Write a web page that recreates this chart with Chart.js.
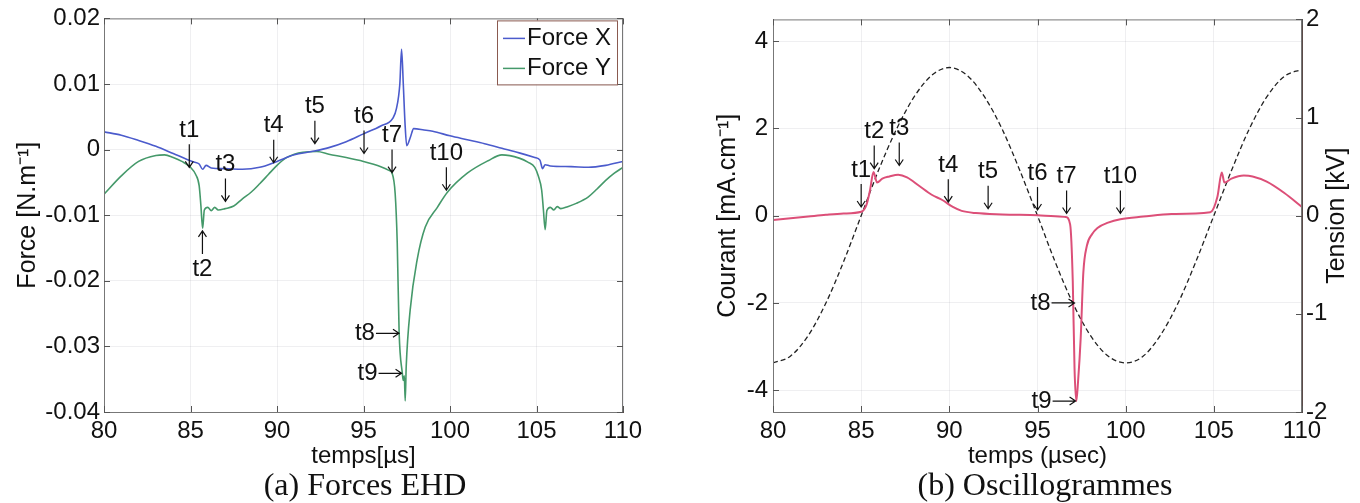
<!DOCTYPE html>
<html>
<head>
<meta charset="utf-8">
<script src="https://cdn.jsdelivr.net/npm/chart.js@4.4.1/dist/chart.umd.min.js"></script>
<style>
body { margin: 0; background: #fff; width: 1360px; height: 503px; overflow: hidden; position: relative; }
.pane { position: absolute; top: 0; width: 680px; height: 503px; }
.cap { position: absolute; top: 466px; width: 400px; text-align: center; font-size: 32px; line-height: 36px;
       font-family: "Liberation Serif", "Times New Roman", serif; color: #111; }
</style>
</head>
<body>
<div class="pane" style="left:0"><canvas id="forces" width="680" height="503"></canvas></div>
<div class="pane" style="left:680px"><canvas id="oscillo" width="680" height="503"></canvas></div>
<div class="cap" style="left:165px">(a) Forces EHD</div>
<div class="cap" style="left:845px">(b) Oscillogrammes</div>
<script>
// ticks
var timeTicks = [80, 85, 90, 95, 100, 105, 110];
var forceTicks = [-0.04, -0.03, -0.02, -0.01, 0, 0.01, 0.02];
var courantTicks = [-4, -2, 0, 2, 4];
var tensionTicks = [-2, -1, 0, 1, 2];

// (a) forces EHD, N/m
var fxTime = [80, 81, 82, 83, 84, 84.8, 85.2, 85.5, 85.7, 85.9, 86.2, 87, 88, 89, 90, 91, 92, 93, 94, 95, 96,
  96.7, 96.9, 97.1, 97.2, 97.3, 97.4, 97.5, 97.7, 97.9, 98.5, 99, 100, 101, 102, 103, 104, 104.9, 105.2, 105.35,
  105.5, 105.8, 107, 108, 109, 110];
var fxValue = [0.0027, 0.0022, 0.0014, 0.0005, -0.0006, -0.0015, -0.0019, -0.0022, -0.0030, -0.0024, -0.0028,
  -0.0029, -0.0030, -0.0027, -0.0018, -0.0008, -0.0003, 0.0003, 0.0012, 0.0024, 0.0036,
  0.0048, 0.0062, 0.0100, 0.0153, 0.0100, 0.0040, 0.0006, 0.0018, 0.0032, 0.0030, 0.0028, 0.0021, 0.0015,
  0.0009, 0.0002, -0.0005, -0.0012, -0.0016, -0.0029, -0.0023, -0.0025, -0.0026, -0.0027, -0.0024, -0.0018];

var fyTime = [80, 81, 82, 83, 83.5, 84, 84.5, 85, 85.3, 85.5, 85.6, 85.7, 85.8, 86, 86.2, 86.4, 86.6, 87, 87.5,
  88, 88.5, 89, 89.5, 90, 90.5, 91, 91.5, 92.3, 93, 94, 95, 96, 96.5, 96.65, 96.83, 96.95, 97.06, 97.24, 97.3,
  97.36, 97.41, 97.47, 97.7, 98.1, 98.57, 99.27, 99.85, 101, 102.2, 103, 104, 104.5, 104.9, 105.1, 105.3, 105.4,
  105.5, 105.6, 105.8, 106, 106.2, 106.4, 106.8, 107.3, 108, 108.5, 109, 109.5, 110];
var fyValue = [-0.0068, -0.0040, -0.0018, -0.0009, -0.0008, -0.0012, -0.0018, -0.0027, -0.0038, -0.0055,
  -0.0085, -0.0120, -0.0092, -0.0088, -0.0093, -0.0088, -0.0092, -0.0090, -0.0086, -0.0075, -0.0065, -0.0052,
  -0.0038, -0.0024, -0.0013, -0.0007, -0.0004, -0.0003, -0.0007, -0.0012, -0.0018, -0.0026, -0.0032, -0.0036,
  -0.0067, -0.0142, -0.0279, -0.0340, -0.0352, -0.0345, -0.0383, -0.0330, -0.0244, -0.0168, -0.0118, -0.0088,
  -0.0065, -0.0036, -0.0017, -0.0008, -0.0013, -0.0019, -0.0027, -0.0040, -0.0062, -0.0092, -0.0122, -0.0093,
  -0.0088, -0.0092, -0.0087, -0.0090, -0.0087, -0.0082, -0.0072, -0.0060, -0.0047, -0.0036, -0.0027];

// (b) oscillogrammes: current mA/cm, voltage kV
var courantTime = [80, 81, 82, 83, 84, 85, 85.3, 85.5, 85.7, 85.9, 86.2, 86.6, 87.1, 87.6, 88.3, 89, 89.6, 90.2,
  90.7, 91.5, 93, 95, 96, 96.6, 96.85, 97, 97.1, 97.2, 97.3, 97.45, 97.6, 97.8, 98.1, 98.4, 99, 99.7, 101, 102.6,
  104.8, 105.2, 105.45, 105.6, 106, 106.7, 107.2, 108, 109, 110];
var courantValue = [-0.10, -0.06, -0.02, 0.02, 0.05, 0.09, 0.25, 0.58, 1.0, 0.76, 0.85, 0.90, 0.94, 0.88, 0.68,
  0.48, 0.36, 0.20, 0.11, 0.06, 0.03, 0.01, -0.01, -0.03, -0.20, -1.5, -3.5, -4.25, -3.8, -2.8, -1.3, -0.69, -0.42,
  -0.28, -0.16, -0.08, -0.02, 0.04, 0.08, 0.43, 0.99, 0.76, 0.85, 0.92, 0.90, 0.78, 0.52, 0.20];

var tensionTime = [80, 81, 82, 83, 84, 85, 86, 87, 88, 89, 90, 91, 92, 93, 94, 95, 96, 97, 98, 99, 100,
  101, 102, 103, 104, 105, 106, 107, 108, 109, 110];
var tensionValue = [-1.50, -1.43, -1.22, -0.89, -0.47, 0.0, 0.47, 0.88, 1.21, 1.43, 1.51, 1.43, 1.21, 0.88,
  0.46, 0.0, -0.47, -0.89, -1.22, -1.43, -1.50, -1.43, -1.21, -0.88, -0.46, 0.0, 0.46, 0.88, 1.21, 1.42, 1.49];

// instants t1..t10: label, time, value at arrow tip, arrow direction
var forceMarks = [
  ['t1', 84.93, -0.0027, 'down'], ['t2', 85.69, -0.0124, 'up'], ['t3', 87.02, -0.0079, 'down'],
  ['t4', 89.81, -0.0020, 'down'], ['t5', 92.19, 0.0009, 'down'], ['t6', 95.03, -0.0006, 'down'],
  ['t7', 96.65, -0.0035, 'down'], ['t8', 97.05, -0.0280, 'right'], ['t9', 97.2, -0.0341, 'right'],
  ['t10', 99.79, -0.0062, 'down']
];
var oscilloMarks = [
  ['t1', 85.0, 0.2, 'down'], ['t2', 85.74, 1.08, 'down'], ['t3', 87.16, 1.15, 'down'],
  ['t4', 89.94, 0.31, 'down'], ['t5', 92.2, 0.16, 'down'], ['t6', 95.0, 0.13, 'down'],
  ['t7', 96.65, 0.05, 'down'], ['t8', 97.1, -2.0, 'right'], ['t9', 97.16, -4.25, 'right'],
  ['t10', 99.7, 0.05, 'down']
];

var sans = '"Liberation Sans", Arial, sans-serif';
var tickFont = { family: sans, size: 24 };
var labelFont = { family: sans, size: 25 };
var gridColor = 'rgba(120,120,140,0.12)';
var axisColor = '#5a4a48';

function pairs(xs, ys) {
  return xs.map(function (x, i) { return { x: x, y: ys[i] }; });
}
function fixTicks(list) {
  return function (s) { s.ticks = list.map(function (v) { return { value: v }; }); };
}

// frame, inner ticks, arrows, boxed legend, right-hand title
var decor = {
  id: 'decor',
  afterDatasetsDraw: function (chart, args, o) {
    var a = chart.chartArea, c = chart.ctx, x = chart.scales.x;
    c.save();
    c.strokeStyle = '#777';
    c.lineWidth = 1;
    c.strokeRect(a.left + 0.5, a.top + 0.5, a.right - a.left - 1, a.bottom - a.top);
    c.strokeStyle = '#555';
    c.beginPath();
    x.ticks.forEach(function (t) {
      var p = Math.round(x.getPixelForValue(t.value)) + 0.5;
      c.moveTo(p, a.bottom); c.lineTo(p, a.bottom - 6);
      c.moveTo(p, a.top); c.lineTo(p, a.top + 6);
    });
    chart.scales.y.ticks.forEach(function (t) {
      var p = Math.round(chart.scales.y.getPixelForValue(t.value)) + 0.5;
      c.moveTo(a.left, p); c.lineTo(a.left + 6, p);
      if (!chart.scales.y2) { c.moveTo(a.right, p); c.lineTo(a.right - 6, p); }
    });
    if (chart.scales.y2) {
      chart.scales.y2.ticks.forEach(function (t) {
        var p = Math.round(chart.scales.y2.getPixelForValue(t.value)) + 0.5;
        c.moveTo(a.right, p); c.lineTo(a.right - 6, p);
      });
    }
    c.stroke();

    c.font = '24px ' + sans;
    c.fillStyle = '#111';
    c.strokeStyle = '#111';
    c.lineWidth = 1.2;
    o.marks.forEach(function (m) {
      var px = x.getPixelForValue(m[1]), py = chart.scales.y.getPixelForValue(m[2]);
      var L = 23, h = 6;
      c.beginPath();
      if (m[3] === 'down') {
        c.moveTo(px, py - L); c.lineTo(px, py);
        c.moveTo(px - 4, py - h); c.lineTo(px, py); c.lineTo(px + 4, py - h);
        c.textAlign = 'center'; c.textBaseline = 'middle';
        c.fillText(m[0], px, py - L - 14);
      } else if (m[3] === 'up') {
        c.moveTo(px, py + L); c.lineTo(px, py);
        c.moveTo(px - 4, py + h); c.lineTo(px, py); c.lineTo(px + 4, py + h);
        c.textAlign = 'center'; c.textBaseline = 'middle';
        c.fillText(m[0], px, py + L + 15);
      } else {
        c.moveTo(px - L, py); c.lineTo(px, py);
        c.moveTo(px - h, py - 4); c.lineTo(px, py); c.lineTo(px - h, py + 4);
        c.textAlign = 'right'; c.textBaseline = 'middle';
        c.fillText(m[0], px - L - 1, py);
      }
      c.stroke();
    });

    if (o.legend) {
      var bw = 120, bh = 64, bx = a.right - 6 - bw, by = a.top + 2;
      c.fillStyle = '#fff';
      c.fillRect(bx, by, bw, bh);
      c.strokeStyle = '#8a5a50';
      c.lineWidth = 1;
      c.strokeRect(bx + 0.5, by + 0.5, bw, bh);
      c.textAlign = 'left';
      chart.data.datasets.forEach(function (d, i) {
        var ly = by + 18 + i * 30;
        c.strokeStyle = d.borderColor;
        c.lineWidth = 1.5;
        c.beginPath(); c.moveTo(bx + 6, ly); c.lineTo(bx + 28, ly); c.stroke();
        c.fillStyle = '#111';
        c.fillText(d.label, bx + 30, ly);
      });
    }

    if (o.rightTitle) {
      c.font = '25px ' + sans;
      c.translate(657, (a.top + a.bottom) / 2);
      c.rotate(-Math.PI / 2);
      c.textAlign = 'center';
      c.textBaseline = 'middle';
      c.fillStyle = '#111';
      c.fillText(o.rightTitle, 0, 0);
    }
    c.restore();
  }
};

function xScale(title) {
  return {
    type: 'linear', min: 80, max: 110,
    afterBuildTicks: fixTicks(timeTicks),
    afterFit: function (s) { s.height = 59; },
    grid: { color: gridColor, drawTicks: false },
    border: { color: axisColor },
    ticks: { font: tickFont, color: '#111', padding: 5, maxRotation: 0, autoSkip: false },
    title: { display: true, text: title, font: tickFont, color: '#111', padding: 0 }
  };
}

new Chart(document.getElementById('forces'), {
  type: 'line',
  data: {
    datasets: [
      { label: 'Force X', data: pairs(fxTime, fxValue), borderColor: '#4b5bcc', borderWidth: 1.6,
        pointRadius: 0, cubicInterpolationMode: 'monotone' },
      { label: 'Force Y', data: pairs(fyTime, fyValue), borderColor: '#45996a', borderWidth: 1.6,
        pointRadius: 0, cubicInterpolationMode: 'monotone' }
    ]
  },
  options: {
    responsive: false, animation: false, devicePixelRatio: 1,
    layout: { padding: { left: 0, right: 57, top: 16, bottom: 32 } },
    plugins: {
      legend: { display: false }, tooltip: { enabled: false },
      decor: { marks: forceMarks, legend: true }
    },
    scales: {
      x: xScale('temps[µs]'),
      y: {
        type: 'linear', min: -0.04, max: 0.02,
        afterBuildTicks: fixTicks(forceTicks),
        afterFit: function (s) { s.width = 104; },
        grid: { color: gridColor, drawTicks: false },
        border: { color: axisColor },
        ticks: { font: tickFont, color: '#111', padding: 4,
          callback: function (v) { return String(+v.toFixed(2)); } },
        title: { display: true, text: 'Force [N.m⁻¹]', font: labelFont, color: '#111', padding: { top: 13, bottom: 0 } }
      }
    }
  },
  plugins: [decor]
});

new Chart(document.getElementById('oscillo'), {
  type: 'line',
  data: {
    datasets: [
      { label: 'Courant', data: pairs(courantTime, courantValue), yAxisID: 'y', borderColor: '#dc4f78',
        borderWidth: 2, pointRadius: 0, cubicInterpolationMode: 'monotone' },
      { label: 'Tension', data: pairs(tensionTime, tensionValue), yAxisID: 'y2', borderColor: '#222',
        borderWidth: 1.3, borderDash: [5, 3], pointRadius: 0, cubicInterpolationMode: 'monotone' }
    ]
  },
  options: {
    responsive: false, animation: false, devicePixelRatio: 1,
    layout: { padding: { left: 0, right: 0, top: 15, bottom: 32 } },
    plugins: {
      legend: { display: false }, tooltip: { enabled: false },
      decor: { marks: oscilloMarks, legend: false, rightTitle: 'Tension [kV]' }
    },
    scales: {
      x: xScale('temps (µsec)'),
      y: {
        type: 'linear', position: 'left', min: -4.5, max: 4.5,
        afterBuildTicks: fixTicks(courantTicks),
        afterFit: function (s) { s.width = 93; },
        grid: { color: gridColor, drawTicks: false },
        border: { color: axisColor },
        ticks: { font: tickFont, color: '#111', padding: 5 },
        title: { display: true, text: 'Courant [mA.cm⁻¹]', font: labelFont, color: '#111', padding: { top: 33, bottom: 0 } }
      },
      y2: {
        type: 'linear', position: 'right', min: -2, max: 2,
        afterBuildTicks: fixTicks(tensionTicks),
        afterFit: function (s) { s.width = 58; },
        grid: { drawOnChartArea: false, drawTicks: false },
        border: { color: axisColor },
        ticks: { font: tickFont, color: '#111', padding: 4 }
      }
    }
  },
  plugins: [decor]
});
</script>
</body>
</html>
